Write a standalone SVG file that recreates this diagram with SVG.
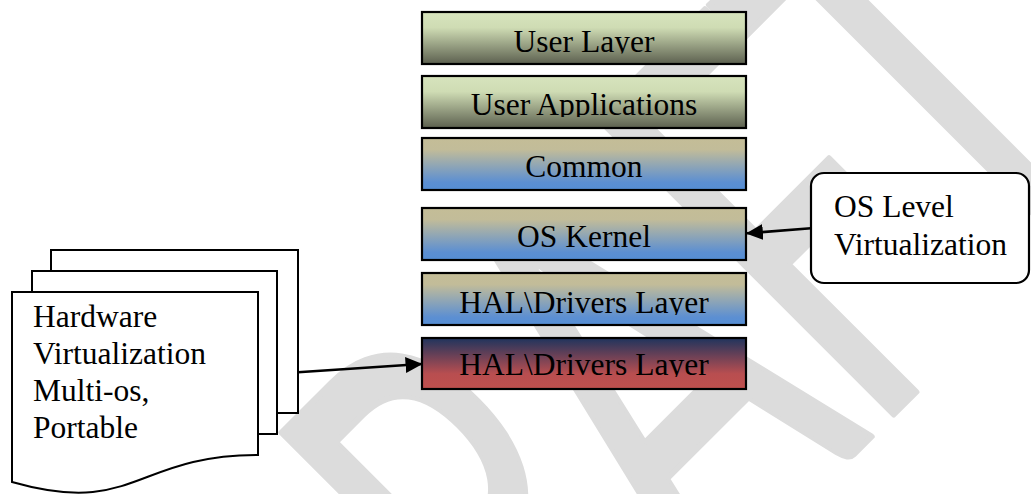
<svg xmlns="http://www.w3.org/2000/svg" width="1031" height="494" viewBox="0 0 1031 494">
  <style>
    .layer { stroke: #000; stroke-width: 2.2; }
    .label { font-family: "Liberation Serif", "Times New Roman", serif; font-size: 31.5px; fill: #000; }
    .mid { text-anchor: middle; }
    .page { fill: #fff; stroke: #000; stroke-width: 2; stroke-linejoin: miter; }
    .callout { fill: #fff; stroke: #000; stroke-width: 2.2; }
    .link { fill: none; stroke: #000; stroke-width: 2.6; marker-end: url(#arrow); }
    .mark { font-family: Lato, "Open Sans", sans-serif; font-size: 586px; fill: #dcdcdc; text-anchor: middle; stroke: #dcdcdc; stroke-width: 6; stroke-linejoin: round; }
  </style>
  <defs>
    <linearGradient id="gGreen" x1="0" y1="0" x2="0" y2="1">
      <stop offset="0" stop-color="#d7e4bd"/>
      <stop offset="0.3" stop-color="#cfdcb4"/>
      <stop offset="1" stop-color="#5c604f"/>
    </linearGradient>
    <linearGradient id="gBlue" x1="0" y1="0" x2="0" y2="1">
      <stop offset="0" stop-color="#c4bd97"/>
      <stop offset="0.22" stop-color="#c2bc99"/>
      <stop offset="0.85" stop-color="#5c8fd2"/>
      <stop offset="1" stop-color="#558ed5"/>
    </linearGradient>
    <linearGradient id="gRed" x1="0" y1="0" x2="0" y2="1">
      <stop offset="0" stop-color="#1f345d"/>
      <stop offset="0.7" stop-color="#b84e50"/>
      <stop offset="1" stop-color="#c0504d"/>
    </linearGradient>
    <marker id="arrow" markerUnits="userSpaceOnUse" markerWidth="17" markerHeight="16" viewBox="0 0 16 15" refX="15" refY="7.5" orient="auto">
      <path d="M0,0 L16,7.5 L0,15 Z" fill="#000"/>
    </marker>
    <!-- inner text areas of the layer boxes (lines are cut just under the baseline) -->
    <clipPath id="c1" clipPathUnits="userSpaceOnUse"><rect x="422" y="12" width="324" height="41.5"/></clipPath>
    <clipPath id="c2" clipPathUnits="userSpaceOnUse"><rect x="422" y="76" width="324" height="41"/></clipPath>
    <clipPath id="c3" clipPathUnits="userSpaceOnUse"><rect x="422" y="138" width="324" height="41"/></clipPath>
    <clipPath id="c4" clipPathUnits="userSpaceOnUse"><rect x="422" y="208" width="324" height="41"/></clipPath>
    <clipPath id="c5" clipPathUnits="userSpaceOnUse"><rect x="422" y="273" width="324" height="42"/></clipPath>
    <clipPath id="c6" clipPathUnits="userSpaceOnUse"><rect x="422" y="338" width="324" height="39"/></clipPath>
  </defs>

  <rect width="1031" height="494" fill="#fff"/>

  <!-- background watermark -->
  <g id="watermark" transform="rotate(-45) scale(0.6,1)">
    <text class="mark" y="925"><tspan x="-442">D</tspan><tspan x="-50">R</tspan><tspan x="318">A</tspan><tspan x="675">F</tspan><tspan x="992">T</tspan></text>
  </g>

  <!-- layer stack -->
  <g id="user-layer">
    <rect class="layer" x="422" y="12" width="324" height="52" fill="url(#gGreen)"/>
    <text class="label mid" x="584" y="51.7" clip-path="url(#c1)">User Layer</text>
  </g>
  <g id="user-applications">
    <rect class="layer" x="422" y="76" width="324" height="52" fill="url(#gGreen)"/>
    <text class="label mid" x="584" y="115" clip-path="url(#c2)">User Applications</text>
  </g>
  <g id="common">
    <rect class="layer" x="422" y="138" width="324" height="52" fill="url(#gBlue)"/>
    <text class="label mid" x="584" y="176.7" clip-path="url(#c3)">Common</text>
  </g>
  <g id="os-kernel">
    <rect class="layer" x="422" y="208" width="324" height="52" fill="url(#gBlue)"/>
    <text class="label mid" x="584" y="247.3" clip-path="url(#c4)">OS Kernel</text>
  </g>
  <g id="hal-drivers-upper">
    <rect class="layer" x="422" y="273" width="324" height="52" fill="url(#gBlue)"/>
    <text class="label mid" x="584" y="313.3" clip-path="url(#c5)">HAL\Drivers Layer</text>
  </g>
  <g id="hal-drivers-lower">
    <rect class="layer" x="422" y="338" width="324" height="51" fill="url(#gRed)"/>
    <text class="label mid" x="584" y="375" clip-path="url(#c6)">HAL\Drivers Layer</text>
  </g>

  <!-- multi-document: hardware virtualization -->
  <g id="hardware-virtualization">
    <rect class="page" x="51" y="250" width="247" height="163"/>
    <rect class="page" x="32" y="271" width="245" height="163"/>
    <path class="page" d="M12,292 L258,292 L258,455 C135,455 135,517 12,482 Z"/>
    <text class="label" x="33" y="327.3">Hardware</text>
    <text class="label" x="33" y="364">Virtualization</text>
    <text class="label" x="33" y="400.7">Multi-os,</text>
    <text class="label" x="33" y="438.3">Portable</text>
  </g>

  <!-- callout: OS level virtualization -->
  <g id="os-level-virtualization">
    <rect class="callout" x="811" y="173" width="218" height="110" rx="13" ry="13"/>
    <text class="label" x="834" y="216.7">OS Level</text>
    <text class="label" x="834" y="254.5">Virtualization</text>
  </g>

  <!-- connectors -->
  <g id="connectors">
    <line class="link" x1="298" y1="372.3" x2="421.5" y2="364"/>
    <line class="link" x1="811" y1="228.3" x2="747" y2="233.3"/>
  </g>
</svg>
